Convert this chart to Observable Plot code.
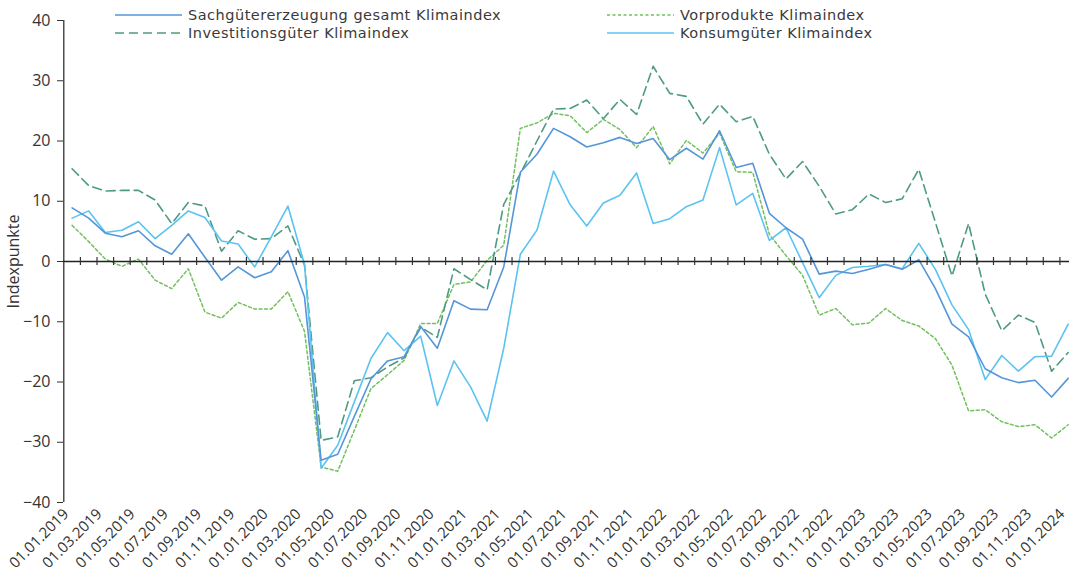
<!DOCTYPE html>
<html>
<head>
<meta charset="utf-8">
<script src="https://cdn.jsdelivr.net/npm/d3@7"></script>
<script src="https://cdn.jsdelivr.net/npm/@observablehq/plot@0.6"></script>
<style>
  body { margin: 0; background: #fff; }
  #wrap { position: relative; width: 1069px; height: 587px; font-family: "Open Sans", sans-serif; color: #333; }
  #legend { position: absolute; left: 0; top: 0; width: 1069px; height: 45px; pointer-events: none; }
  .item { position: absolute; display: flex; align-items: center; height: 16px; font-family: "DejaVu Sans", sans-serif; font-size: 14.5px; letter-spacing: 0.5px; line-height: 16px; white-space: nowrap; color: #3a3a3a; }
  .item span { line-height: 16px; display: inline-block; height: 16px; }
  .item svg { margin-right: 6px; }
</style>
</head>
<body>
<div id="wrap">
  <div id="chart"></div>
  <div id="legend"></div>
</div>
<script>
// Month categories 01.01.2019 .. 01.01.2024
const months = [];
for (let y = 2019; y <= 2024; y++) {
  for (let m = 1; m <= 12; m++) {
    if (y === 2024 && m > 1) break;
    months.push("01." + String(m).padStart(2, "0") + "." + y);
  }
}

const seriesNames = [
  "Sachgütererzeugung gesamt Klimaindex",
  "Vorprodukte Klimaindex",
  "Investitionsgüter Klimaindex",
  "Konsumgüter Klimaindex"
];

const sachgueter = [8.9, 7.2, 4.7, 4.1, 5.1, 2.6, 1.2, 4.6, 0.7, -3.1,
  -0.9, -2.7, -1.7, 1.8, -5.9, -33.0, -32.0, -25.7, -19.5, -16.5,
  -15.8, -10.8, -14.4, -6.5, -7.9, -8.0, -0.9, 14.8, 17.8, 22.1,
  20.7, 19.0, 19.7, 20.6, 19.6, 20.4, 16.9, 18.8, 17.0, 21.7,
  15.6, 16.3, 8.0, 5.6, 3.7, -2.1, -1.6, -2.0, -1.3, -0.5,
  -1.3, 0.3, -4.5, -10.4, -12.5, -17.8, -19.3, -20.1, -19.7, -22.5,
  -19.4];

const vorprodukte = [6.0, 3.3, 0.4, -0.8, 0.4, -3.1, -4.5, -1.2, -8.4, -9.4,
  -6.8, -7.9, -7.9, -5.0, -11.6, -34.1, -34.8, -28.0, -21.1, -18.8,
  -16.4, -10.3, -10.3, -3.8, -3.4, 0.2, 2.7, 22.1, 23.0, 24.6,
  24.2, 21.4, 23.6, 21.9, 18.9, 22.4, 16.2, 20.1, 18.0, 21.3,
  14.9, 14.8, 4.5, 1.0, -2.3, -8.9, -7.8, -10.5, -10.2, -7.8,
  -9.8, -10.7, -12.8, -17.2, -24.8, -24.6, -26.6, -27.4, -27.1, -29.3,
  -27.1];

const investitionsgueter = [15.4, 12.6, 11.7, 11.8, 11.8, 10.2, 6.3, 9.8, 9.2, 1.7,
  5.1, 3.7, 3.8, 5.9, -0.6, -29.7, -29.1, -19.8, -19.3, -17.5,
  -16.0, -10.9, -12.6, -1.2, -3.0, -4.7, 9.5, 14.6, 20.0, 25.3,
  25.4, 26.8, 23.7, 26.9, 24.4, 32.4, 27.9, 27.4, 22.8, 26.1,
  23.2, 24.1, 17.8, 13.7, 16.6, 12.5, 7.9, 8.6, 11.2, 9.8,
  10.4, 15.3, 6.5, -2.4, 6.3, -5.4, -11.5, -8.9, -10.1, -18.2,
  -15.1];

const konsumgueter = [7.2, 8.4, 4.8, 5.2, 6.6, 3.8, 6.0, 8.4, 7.3, 3.4,
  2.9, -0.9, 4.1, 9.2, -0.5, -34.3, -30.5, -23.3, -16.1, -11.8,
  -14.8, -12.4, -23.9, -16.5, -20.8, -26.5, -14.4, 1.2, 5.2, 15.0,
  9.4, 5.9, 9.7, 11.0, 14.7, 6.3, 7.1, 9.1, 10.2, 18.9,
  9.4, 11.3, 3.5, 5.6, -0.2, -6.0, -2.3, -1.0, -0.8, -0.5,
  -1.2, 3.0, -1.3, -7.2, -11.3, -19.6, -15.6, -18.2, -15.8, -15.7,
  -10.4];

const yTicks = [-40, -30, -20, -10, 0, 10, 20, 30, 40];

const styles = {
  "Sachgütererzeugung gesamt Klimaindex": {stroke: "#5596d9", dash: null, width: 1.6},
  "Vorprodukte Klimaindex": {stroke: "#72c05f", dash: "3,2.5", width: 1.5},
  "Investitionsgüter Klimaindex": {stroke: "#4f9b82", dash: "9,5", width: 1.6},
  "Konsumgüter Klimaindex": {stroke: "#5cc3f1", dash: null, width: 1.6}
};
const valuesBySeries = {
  "Sachgütererzeugung gesamt Klimaindex": sachgueter,
  "Vorprodukte Klimaindex": vorprodukte,
  "Investitionsgüter Klimaindex": investitionsgueter,
  "Konsumgüter Klimaindex": konsumgueter
};

const rows = seriesNames.flatMap(s => valuesBySeries[s].map((v, i) => ({series: s, i, month: months[i], value: v})));
const boundaries = d3.range(0.5, months.length, 1);
const xTicks = d3.range(0, months.length, 2);

const drawOrder = ["Vorprodukte Klimaindex", "Investitionsgüter Klimaindex", "Konsumgüter Klimaindex", "Sachgütererzeugung gesamt Klimaindex"];

const chart = Plot.plot({
  width: 1069,
  height: 587,
  marginLeft: 63,
  marginTop: 20,
  marginBottom: 85,
  marginRight: 0,
  style: {fontFamily: "'Open Sans', sans-serif", fontSize: "15px", color: "#333", background: "#fff"},
  x: {type: "linear", domain: [-0.5, months.length - 0.5], range: [63.3, 1076]},
  y: {domain: [-40, 40]},
  marks: [
    Plot.ruleX([-0.5], {stroke: "#222", strokeWidth: 1.2}),
    Plot.axisY({ticks: yTicks, tickSize: 6, tickPadding: 7, fontSize: 16,
      label: "Indexpunkte", labelAnchor: "center", labelArrow: "none", labelOffset: 56}),
    Plot.axisX({ticks: xTicks, tickSize: 0, tickPadding: 9, tickRotate: -45, fontSize: 15, dx: -6,
      tickFormat: i => months[i], label: null}),
    ...drawOrder.map(s => Plot.line(rows.filter(d => d.series === s), {
      x: "i", y: "value", stroke: styles[s].stroke, strokeWidth: styles[s].width,
      strokeDasharray: styles[s].dash, curve: "linear"
    })),
    Plot.ruleY([0], {stroke: "#222", strokeWidth: 1.3}),
    Plot.ruleX(boundaries, {x: d => d, y1: -0.66, y2: 0.66, stroke: "#333", strokeWidth: 1.2})
  ]
});
document.getElementById("chart").appendChild(chart);

// Legend overlay
const legendLayout = [
  {name: "Sachgütererzeugung gesamt Klimaindex", left: 115, top: 7},
  {name: "Vorprodukte Klimaindex", left: 607, top: 7},
  {name: "Investitionsgüter Klimaindex", left: 115, top: 25},
  {name: "Konsumgüter Klimaindex", left: 607, top: 25}
];
const legend = document.getElementById("legend");
for (const it of legendLayout) {
  const st = styles[it.name];
  const div = document.createElement("div");
  div.className = "item";
  div.style.left = it.left + "px";
  div.style.top = it.top + "px";
  div.innerHTML = `<svg width="67" height="10"><line x1="0" x2="67" y1="5" y2="5" stroke="${st.stroke}" stroke-width="${st.width}" ${st.dash ? `stroke-dasharray="${st.dash}"` : ""}/></svg><span>${it.name}</span>`;
  legend.appendChild(div);
}
</script>
</body>
</html>
